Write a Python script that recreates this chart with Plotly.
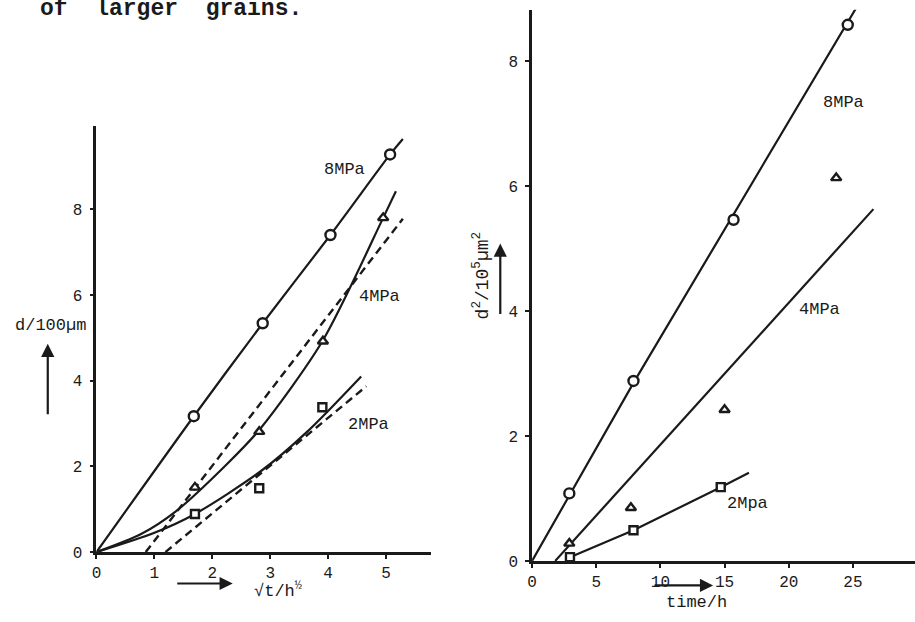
import plotly.graph_objects as go

W, H = 915, 622

# ---------------- Left panel: d/100um vs sqrt(t) ----------------
L_CIRCLE_X = [1.68, 2.87, 4.04, 5.07]
L_CIRCLE_Y = [3.17, 5.34, 7.40, 9.28]
L_TRI_X = [1.70, 2.81, 3.91, 4.95]
L_TRI_Y = [1.51, 2.81, 4.92, 7.80]
L_SQ_X = [1.70, 2.81, 3.90]
L_SQ_Y = [0.89, 1.49, 3.38]

L8_CURVE_X = [0, 1.68, 2.87, 4.04, 5.07, 5.29]
L8_CURVE_Y = [0, 3.17, 5.34, 7.40, 9.28, 9.64]
L4_CURVE_X = [0, 0.77, 1.37, 2.25, 2.81, 3.90, 4.95, 5.17]
L4_CURVE_Y = [0, 0.42, 0.95, 2.05, 2.85, 4.92, 7.80, 8.42]
L2_CURVE_X = [0, 1.00, 1.70, 2.83, 3.63, 4.57]
L2_CURVE_Y = [0, 0.45, 0.89, 1.88, 2.80, 4.10]
L4_DASH_X = [0.85, 5.29]
L4_DASH_Y = [0, 7.78]
L2_DASH_X = [1.19, 4.66]
L2_DASH_Y = [0, 3.87]

L_XTICKS = [0, 1, 2, 3, 4, 5]
L_YTICKS = [0, 2, 4, 6, 8]

# ---------------- Right panel: d^2 vs time ----------------
R_CIRCLE_T = [2.9, 7.9, 15.7, 24.6]
R_CIRCLE_Y = [1.08, 2.88, 5.46, 8.58]
R_TRI_T = [2.9, 7.7, 15.0, 23.7]
R_TRI_Y = [0.28, 0.85, 2.42, 6.13]
R_SQ_T = [2.95, 7.9, 14.7]
R_SQ_Y = [0.06, 0.49, 1.18]

R8_LINE_T = [0, 7.9, 25.4]
R8_LINE_Y = [0, 2.85, 8.9]
R4_LINE_T = [1.8, 26.6]
R4_LINE_Y = [0, 5.63]
R2_LINE_T = [2.95, 7.9, 14.7, 16.9]
R2_LINE_Y = [0.06, 0.49, 1.18, 1.41]

R_XTICKS = [0, 5, 10, 15, 20, 25]
R_YTICKS = [0, 2, 4, 6, 8]

FONT = "Liberation Mono"
BLACK = "#1a1a1a"

fig = go.Figure()

def line(x, y, xa, ya, dash="solid", shape="linear", width=2.2):
    fig.add_trace(go.Scatter(x=x, y=y, mode="lines", xaxis=xa, yaxis=ya,
                             line=dict(color=BLACK, width=width, dash=dash,
                                       shape=shape, smoothing=0.8),
                             hoverinfo="skip", showlegend=False))

def marks(x, y, xa, ya, symbol, size):
    fig.add_trace(go.Scatter(x=x, y=y, mode="markers", xaxis=xa, yaxis=ya,
                             marker=dict(symbol=symbol, size=size, color="white",
                                         line=dict(color=BLACK, width=2.4)),
                             cliponaxis=False, hoverinfo="skip", showlegend=False))

# left panel
line(L8_CURVE_X, L8_CURVE_Y, "x", "y", shape="spline")
line(L4_CURVE_X, L4_CURVE_Y, "x", "y", shape="spline")
line(L2_CURVE_X, L2_CURVE_Y, "x", "y", shape="spline")
line(L4_DASH_X, L4_DASH_Y, "x", "y", dash="8px,5px", width=2.4)
line(L2_DASH_X, L2_DASH_Y, "x", "y", dash="8px,5px", width=2.4)
marks(L_CIRCLE_X, L_CIRCLE_Y, "x", "y", "circle", 10)
marks(L_TRI_X, L_TRI_Y, "x", "y", "triangle-up", 9)
marks(L_SQ_X, L_SQ_Y, "x", "y", "square", 8)

# right panel
line(R8_LINE_T, R8_LINE_Y, "x2", "y2")
line(R4_LINE_T, R4_LINE_Y, "x2", "y2")
line(R2_LINE_T, R2_LINE_Y, "x2", "y2")
marks(R_CIRCLE_T, R_CIRCLE_Y, "x2", "y2", "circle", 10)
marks(R_TRI_T, R_TRI_Y, "x2", "y2", "triangle-up", 9)
marks(R_SQ_T, R_SQ_Y, "x2", "y2", "square", 8)

def px_x(p):
    return p / W

def px_y(p):
    return 1 - p / H

axis_common = dict(showline=True, linecolor=BLACK, linewidth=2.8, ticks="outside",
                   ticklen=4, tickwidth=2, tickcolor=BLACK, showgrid=False,
                   zeroline=False, tickfont=dict(family=FONT, size=16, color=BLACK),
                   fixedrange=True)

fig.update_layout(
    width=W, height=H, autosize=False,
    margin=dict(l=0, r=0, t=0, b=0),
    paper_bgcolor="white", plot_bgcolor="white",
    showlegend=False,
    xaxis=dict(domain=[px_x(92), px_x(428)], range=[0, 5.77], tickvals=L_XTICKS,
               anchor="y", **axis_common),
    yaxis=dict(domain=[px_y(562), px_y(128)], range=[0, 9.95], tickvals=L_YTICKS,
               anchor="x", ticklabelstandoff=4, **axis_common),
    xaxis2=dict(domain=[px_x(530), 1.0], range=[0, 29.84], tickvals=R_XTICKS,
                anchor="y2", **axis_common),
    yaxis2=dict(domain=[px_y(571), px_y(10)], range=[0, 8.82], tickvals=R_YTICKS,
                anchor="x2", ticklabelstandoff=4, **axis_common),
)

ann = []
tf = dict(family=FONT, size=17, color=BLACK)

def label(x, y, text, xref, yref, **kw):
    d = dict(x=x, y=y, xref=xref, yref=yref, text=text, showarrow=False,
             font=kw.pop("font", tf), xanchor=kw.pop("xanchor", "center"),
             yanchor="middle")
    d.update(kw)
    return d

# curve labels
ann += [
    label(4.29, 8.94, "8MPa", "x", "y"),
    label(4.88, 5.96, "4MPa", "x", "y"),
    label(4.69, 2.97, "2MPa", "x", "y"),
    label(24.26, 7.34, "8MPa", "x2", "y2"),
    label(22.4, 4.03, "4MPa", "x2", "y2"),
    label(16.8, 0.92, "2Mpa", "x2", "y2"),
]

# axis titles
ann += [
    label(px_x(46), px_y(331), "d/100µm", "paper", "paper"),
    label(px_x(275), px_y(601), "√t/h<sup>½</sup>", "paper", "paper"),
    label(px_x(479), px_y(280), "d<sup>2</sup>/10<sup>5</sup>µm<sup>2</sup>",
          "paper", "paper", textangle=-90, font=dict(family=FONT, size=18, color=BLACK)),
    label(px_x(695), px_y(613), "time/h", "paper", "paper"),
    label(px_x(33), px_y(9), "<b>of  larger  grains.</b>", "paper", "paper",
          xanchor="left", font=dict(family=FONT, size=23, color=BLACK)),
]

# arrows
def arrow(hx, hy, tx, ty):
    return dict(x=px_x(hx), y=px_y(hy), xref="paper", yref="paper",
                ax=tx - hx, ay=ty - hy, axref="pixel", ayref="pixel",
                text="", showarrow=True, arrowhead=2, arrowsize=1.2,
                arrowwidth=2.2, arrowcolor=BLACK)

ann += [
    arrow(43, 350, 43, 422),
    arrow(229, 594, 172, 594),
    arrow(498, 248, 498, 320),
    arrow(712, 596, 652, 596),
]

fig.update_layout(annotations=ann)

# remove the default page margins so the 915x622 figure fills the window exactly
POST = """
var de=document.documentElement, b=document.body;
de.style.margin='0'; de.style.padding='0'; de.style.overflow='hidden';
b.style.margin='0'; b.style.padding='0'; b.style.overflow='hidden';
"""

fig.write_html(
    "out.html",
    config={"responsive": False, "displayModeBar": False},
    post_script=POST,
)
